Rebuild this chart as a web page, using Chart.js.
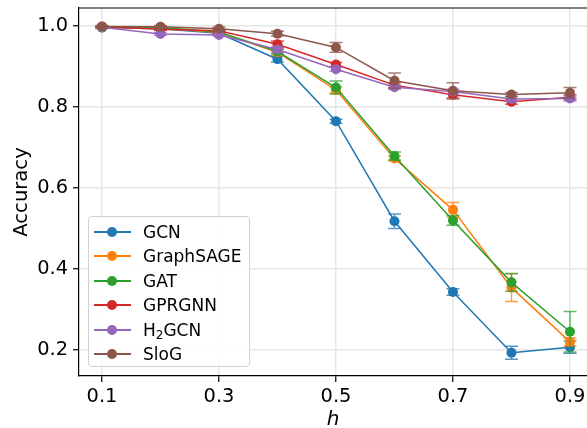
<!DOCTYPE html>
<html>
<head>
<meta charset="utf-8">
<script src="https://cdn.jsdelivr.net/npm/chart.js@4.4.0/dist/chart.umd.min.js"></script>
<style>
  body { margin: 0; background: #fff; }
  #wrap { position: relative; width: 587px; height: 428px; }
  .legend {
    position: absolute; left: 88px; top: 216px; width: 162px; height: 151px;
    box-sizing: border-box; background: rgba(255, 255, 255, 0.8);
    border: 1px solid #d0d0d0; border-radius: 4px;
    font-family: 'DejaVu Sans'; font-size: 17px; color: #000;
  }
  .row { position: absolute; left: 0; width: 100%; height: 0; }
  .swatch { position: absolute; left: 5px; top: -1px; width: 37px; height: 2px; }
  .dot { position: absolute; left: 13px; top: -4px; width: 10px; height: 10px; border-radius: 50%; }
  .lbl { position: absolute; left: 54px; top: -11px; line-height: 22px; white-space: nowrap; }
  .lbl sub { font-size: 12px; vertical-align: -3px; line-height: 0; }
</style>
</head>
<body>
<div id="wrap">
  <canvas id="grafico" width="587" height="428"></canvas>
  <div class="legend" id="legenda"></div>
</div>
<script>
// valores
const hVals = [0.1, 0.2, 0.3, 0.4, 0.5, 0.6, 0.7, 0.8, 0.9];
const xTicks = [0.1, 0.3, 0.5, 0.7, 0.9];
const yTicks = [0.2, 0.4, 0.6, 0.8, 1.0];

const modelos = ['GCN', 'GraphSAGE', 'GAT', 'GPRGNN', 'H₂GCN', 'SloG'];
const modelosHtml = ['GCN', 'GraphSAGE', 'GAT', 'GPRGNN', 'H<sub>2</sub>GCN', 'SloG'];
const cores = ['#1f77b4', '#ff7f0e', '#2ca02c', '#d62728', '#9467bd', '#8c564b'];

const gcnAcc = [0.997, 0.993, 0.982, 0.918, 0.765, 0.518, 0.343, 0.193, 0.207];
const gcnErr = [0.002, 0.003, 0.004, 0.007, 0.005, 0.018, 0.008, 0.016, 0.015];
const sageAcc = [0.997, 0.995, 0.984, 0.935, 0.842, 0.673, 0.546, 0.354, 0.220];
const sageErr = [0.002, 0.003, 0.004, 0.008, 0.008, 0.006, 0.018, 0.034, 0.010];
const gatAcc = [0.996, 0.996, 0.985, 0.937, 0.848, 0.679, 0.520, 0.367, 0.245];
const gatErr = [0.002, 0.003, 0.004, 0.006, 0.016, 0.010, 0.012, 0.022, 0.050];
const gprAcc = [0.998, 0.992, 0.988, 0.955, 0.905, 0.854, 0.830, 0.813, 0.824];
const gprErr = [0.002, 0.003, 0.004, 0.008, 0.005, 0.006, 0.008, 0.006, 0.006];
const h2gcnAcc = [0.997, 0.980, 0.978, 0.942, 0.893, 0.849, 0.838, 0.820, 0.821];
const h2gcnErr = [0.002, 0.003, 0.003, 0.006, 0.005, 0.005, 0.006, 0.006, 0.006];
const slogAcc = [0.999, 0.998, 0.993, 0.981, 0.947, 0.865, 0.840, 0.831, 0.835];
const slogErr = [0.002, 0.003, 0.004, 0.006, 0.012, 0.019, 0.020, 0.005, 0.013];

const acuracias = [gcnAcc, sageAcc, gatAcc, gprAcc, h2gcnAcc, slogAcc];
const erros = [gcnErr, sageErr, gatErr, gprErr, h2gcnErr, slogErr];

const fonte = 'DejaVu Sans';

function comAlfa(hex, a) {
    const n = parseInt(hex.slice(1), 16);
    return `rgba(${(n >> 16) & 255}, ${(n >> 8) & 255}, ${n & 255}, ${a})`;
}

// barras de erro desenhadas antes de cada série
const barrasErro = {
    id: 'barrasErro',
    beforeDatasetDraw(chart, args) {
        const ds = chart.data.datasets[args.index];
        const ys = chart.scales.y;
        const ctx = chart.ctx;
        ctx.save();
        ctx.strokeStyle = comAlfa(ds.borderColor, 0.75);
        ctx.lineWidth = 1.5;
        args.meta.data.forEach(function (pt, i) {
            const v = ds.data[i].y, e = ds.erros[i];
            const topo = ys.getPixelForValue(v + e), base = ys.getPixelForValue(v - e);
            ctx.beginPath();
            ctx.moveTo(pt.x, topo); ctx.lineTo(pt.x, base);
            ctx.moveTo(pt.x - 6.5, topo); ctx.lineTo(pt.x + 6.5, topo);
            ctx.moveTo(pt.x - 6.5, base); ctx.lineTo(pt.x + 6.5, base);
            ctx.stroke();
        });
        ctx.restore();
    }
};

// linha superior do quadro
const bordaTopo = {
    id: 'bordaTopo',
    afterDraw(chart) {
        const a = chart.chartArea, ctx = chart.ctx;
        ctx.save();
        ctx.strokeStyle = '#000';
        ctx.lineWidth = 1.2;
        ctx.beginPath();
        ctx.moveTo(a.left, a.top);
        ctx.lineTo(a.right, a.top);
        ctx.stroke();
        ctx.restore();
    }
};

// sem folga extra para os rótulos das pontas
function semFolga(s) {
    s.paddingTop = 0; s.paddingBottom = 0; s.paddingLeft = 0; s.paddingRight = 0;
}

const datasets = modelos.map(function (nome, i) {
    return {
        label: nome,
        data: hVals.map((h, j) => ({ x: h, y: acuracias[i][j] })),
        erros: erros[i],
        borderColor: cores[i],
        backgroundColor: cores[i],
        borderWidth: 1.5,
        pointRadius: 5,
        pointBorderWidth: 0,
        pointHoverRadius: 5,
        tension: 0,
        order: modelos.length - i
    };
});

new Chart(document.getElementById('grafico').getContext('2d'), {
    type: 'line',
    data: { datasets: datasets },
    plugins: [barrasErro, bordaTopo],
    options: {
        responsive: false,
        animation: false,
        devicePixelRatio: 1,
        layout: { autoPadding: false, padding: { top: 8, left: 0, right: 0, bottom: 0 } },
        plugins: { legend: { display: false }, tooltip: { enabled: false } },
        scales: {
            x: {
                type: 'linear',
                min: 0.0607,
                max: 0.9291,
                afterBuildTicks: s => { s.ticks = xTicks.map(v => ({ value: v })); },
                afterFit: s => { s.height = 52; semFolga(s); },
                ticks: { font: { family: fonte, size: 19.4 }, color: '#000', padding: 3, maxRotation: 0,
                    callback: v => v.toFixed(1) },
                grid: { color: '#e6e6e6', lineWidth: 1.5, tickLength: 6, tickColor: '#000', tickWidth: 1.2 },
                border: { color: '#000', width: 1.2 },
                title: { display: true, text: 'h', color: '#000',
                    font: { family: fonte, size: 20, style: 'italic' }, padding: { top: 0, bottom: -4 } }
            },
            y: {
                min: 0.1358,
                max: 1.0444,
                afterBuildTicks: s => { s.ticks = yTicks.map(v => ({ value: v })); },
                afterFit: s => { s.width = 79; semFolga(s); },
                ticks: { font: { family: fonte, size: 19.4 }, color: '#000', padding: 5,
                    callback: v => v.toFixed(1) },
                grid: { color: '#e6e6e6', lineWidth: 1.5, tickLength: 6, tickColor: '#000', tickWidth: 1.2 },
                border: { color: '#000', width: 1.2 },
                title: { display: true, text: 'Accuracy', color: '#000',
                    font: { family: fonte, size: 19.6 }, padding: { top: 10, bottom: 0 } }
            }
        }
    }
});

// legenda dentro do gráfico
const legenda = document.getElementById('legenda');
modelosHtml.forEach(function (nome, i) {
    const linha = document.createElement('div');
    linha.className = 'row';
    linha.style.top = (15 + i * 24.4) + 'px';
    linha.innerHTML = `<div class="swatch" style="background:${cores[i]}"><div class="dot" style="background:${cores[i]}"></div></div><div class="lbl">${nome}</div>`;
    legenda.appendChild(linha);
});
</script>
</body>
</html>
